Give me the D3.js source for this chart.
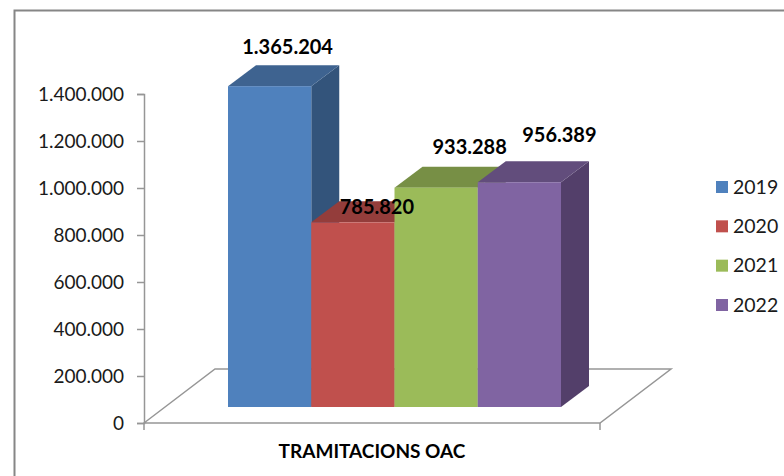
<!DOCTYPE html>
<html>
<head>
<meta charset="utf-8">
<script src="https://cdn.jsdelivr.net/npm/d3@7"></script>
<style>
  html, body { margin: 0; padding: 0; background: #fff; }
  svg { display: block; }
  text { font-family: Lato, "Open Sans", sans-serif; }
</style>
</head>
<body>
<script>
var width = 784, height = 476;

var years = ["2019", "2020", "2021", "2022"];
var values = [1365204, 785820, 933288, 956389];
var valueLabels = ["1.365.204", "785.820", "933.288", "956.389"];
var frontColors = ["#4f81bd", "#c0504d", "#9bbb59", "#8064a2"];
var topColors = ["#3e6390", "#943d3b", "#778f45", "#624d7c"];
var sideColors = ["#33547b", "#7e3432", "#657a3a", "#533f6a"];
var yTicks = [0, 200000, 400000, 600000, 800000, 1000000, 1200000, 1400000];
var categoryLabel = "TRAMITACIONS OAC";

// depth of the 3d box, bars sit halfway back on the floor
var barDepth = { x: 28, y: -21 };
var floorDepth = { x: 71, y: -54 };
var barShift = -16;

var y = d3.scaleLinear().domain([0, 1400000]).range([423, 94]);
var x = d3.scaleBand().domain(years).range([228, 561]);
var floorX = d3.scaleLinear().domain([0, 1]).range([144, 600]);

var fmt = d3.formatLocale({ decimal: ",", thousands: ".", grouping: [3], currency: ["", ""] }).format(",");

var svg = d3.select("body").append("svg")
  .attr("width", width)
  .attr("height", height);

// frame
svg.append("path")
  .attr("d", "M14.5," + height + "V10.5H" + width)
  .attr("fill", "none")
  .attr("stroke", "#868686")
  .attr("stroke-width", 2);

// floor
var x0 = floorX(0), x1 = floorX(1), y0 = y(0);
svg.append("path")
  .attr("d", "M" + x0 + "," + y0 + "L" + (x0 + floorDepth.x) + "," + (y0 + floorDepth.y) +
    "H" + (x1 + floorDepth.x) + "L" + x1 + "," + y0 + "Z")
  .attr("fill", "#fff")
  .attr("stroke", "#969696")
  .attr("stroke-width", 1.5);

// axes
var yAxis = d3.axisLeft(y)
  .tickValues(yTicks)
  .tickSize(7)
  .tickPadding(13)
  .tickFormat(fmt);

var gy = svg.append("g").attr("transform", "translate(" + x0 + ",0)").call(yAxis);
gy.selectAll("path, line").attr("stroke", "#969696").attr("stroke-width", 1.5);
gy.selectAll("text").attr("font-size", 19).attr("fill", "#1a1a1a");

svg.append("g").selectAll("line")
  .data([0, 1])
  .enter().append("line")
  .attr("x1", function(d) { return floorX(d); })
  .attr("x2", function(d) { return floorX(d); })
  .attr("y1", y0)
  .attr("y2", y0 + 7)
  .attr("stroke", "#969696")
  .attr("stroke-width", 1.5);

// bars, left to right so each one covers the side of the previous
var bars = svg.append("g").selectAll("g")
  .data(years)
  .enter().append("g");

function barBox(i) {
  var left = x(years[i]), right = left + x.bandwidth();
  var top = y(values[i]) + barShift, bottom = y(0) + barShift;
  return { left: left, right: right, top: top, bottom: bottom };
}

bars.append("path")
  .attr("fill", function(d, i) { return sideColors[i]; })
  .attr("d", function(d, i) {
    var b = barBox(i);
    return "M" + b.right + "," + b.top + "l" + barDepth.x + "," + barDepth.y +
      "V" + (b.bottom + barDepth.y) + "L" + b.right + "," + b.bottom + "Z";
  });

bars.append("path")
  .attr("fill", function(d, i) { return topColors[i]; })
  .attr("d", function(d, i) {
    var b = barBox(i);
    return "M" + b.left + "," + b.top + "l" + barDepth.x + "," + barDepth.y +
      "H" + (b.right + barDepth.x) + "L" + b.right + "," + b.top + "Z";
  });

bars.append("rect")
  .attr("x", function(d) { return x(d); })
  .attr("width", x.bandwidth())
  .attr("y", function(d, i) { return y(values[i]) + barShift; })
  .attr("height", function(d, i) { return y(0) - y(values[i]); })
  .attr("fill", function(d, i) { return frontColors[i]; });

// value labels, moved by hand in the original chart
var labelOffset = [{ dx: 18, dy: -32 }, { dx: 24, dy: -8 }, { dx: 33.5, dy: -34 }, { dx: 40, dy: -40 }];
svg.append("g").selectAll("text")
  .data(valueLabels)
  .enter().append("text")
  .attr("x", function(d, i) { return x(years[i]) + x.bandwidth() / 2 + labelOffset[i].dx; })
  .attr("y", function(d, i) { return y(values[i]) + barShift + labelOffset[i].dy; })
  .attr("text-anchor", "middle")
  .attr("font-size", 20)
  .attr("font-weight", 700)
  .attr("fill", "#000")
  .text(function(d) { return d; });

svg.append("text")
  .attr("x", (x0 + x1) / 2)
  .attr("y", 458)
  .attr("text-anchor", "middle")
  .attr("font-size", 19)
  .attr("font-weight", 700)
  .attr("fill", "#000")
  .text(categoryLabel);

// legend
var legendY = d3.scalePoint().domain(years).range([187, 305]);
var legend = svg.append("g").selectAll("g")
  .data(years)
  .enter().append("g")
  .attr("transform", function(d) { return "translate(716," + legendY(d) + ")"; });

legend.append("rect")
  .attr("y", -6)
  .attr("width", 12)
  .attr("height", 12)
  .attr("fill", function(d, i) { return frontColors[i]; });

legend.append("text")
  .attr("x", 17)
  .attr("y", 6.5)
  .attr("font-size", 19.5)
  .attr("fill", "#1a1a1a")
  .text(function(d) { return d; });
</script>
</body>
</html>
